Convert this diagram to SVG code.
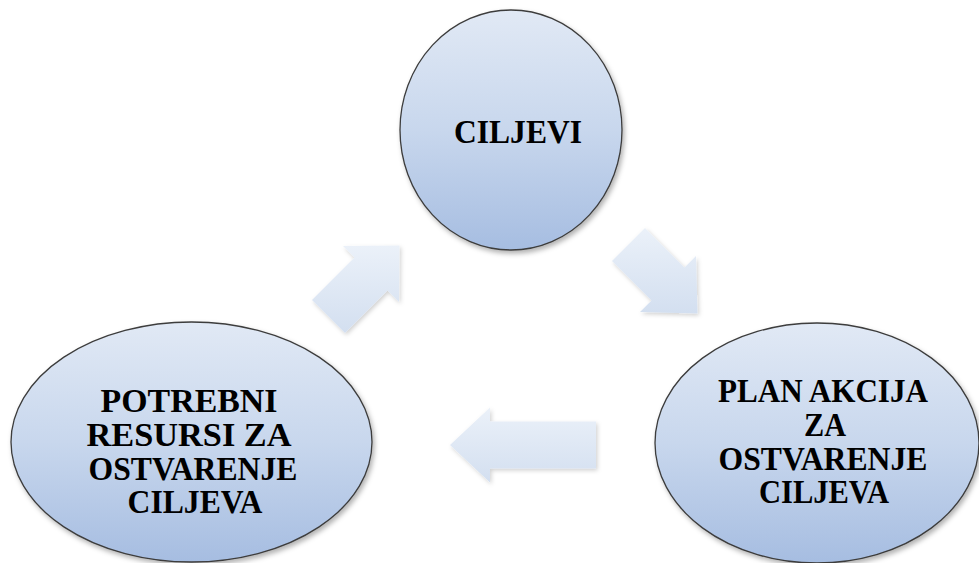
<svg xmlns="http://www.w3.org/2000/svg" width="979" height="563" viewBox="0 0 979 563">
<style>
.node{fill:url(#ng);stroke:#3c3c3c;stroke-width:1.3;filter:url(#sh)}
.lbl{font-weight:bold;font-size:33px;fill:#000;text-anchor:middle}
.arr{fill:url(#ag);stroke:none;filter:url(#ash)}
</style>
<defs>
<linearGradient id="ng" x1="0" y1="0" x2="0" y2="1">
<stop offset="0" stop-color="#e1e9f5"/>
<stop offset="0.5" stop-color="#c8d7ed"/>
<stop offset="1" stop-color="#a6bde1"/>
</linearGradient>
<linearGradient id="ag" x1="0" y1="0" x2="0" y2="1">
<stop offset="0" stop-color="#ebf1f9"/>
<stop offset="1" stop-color="#d3dff0"/>
</linearGradient>
<filter id="sh" x="-10%" y="-10%" width="125%" height="125%">
<feDropShadow dx="2" dy="3" stdDeviation="2.5" flood-color="#000" flood-opacity="0.3"/>
</filter>
<filter id="ash" x="-10%" y="-10%" width="125%" height="125%">
<feDropShadow dx="1.5" dy="2" stdDeviation="2" flood-color="#000" flood-opacity="0.18"/>
</filter>
</defs>
<g id="connectors">
<polygon id="arrow-to-ciljevi" class="arr" points="399.5,245.5 343,246 354.5,257.5 312,300 345,333 387.5,290.5 399,302"/>
<polygon id="arrow-to-plan" class="arr" points="697.5,313.5 696,256 684.5,267.5 645,228 612,261 651.5,300.5 640,312"/>
<polygon id="arrow-to-resursi" class="arr" points="450,445 490,407.5 490,421.5 596,421.5 596,468.5 490,468.5 490,482.5"/>
</g>
<g font-family="Liberation Serif, DejaVu Serif, serif">
<g id="ciljevi">
<ellipse class="node" cx="511" cy="130" rx="111" ry="120"/>
<text class="lbl" x="518" y="142.5" textLength="128" lengthAdjust="spacingAndGlyphs">CILJEVI</text>
</g>
<g id="resursi">
<ellipse class="node" cx="191.5" cy="442" rx="180.5" ry="120"/>
<text class="lbl" x="189" y="412" textLength="177" lengthAdjust="spacingAndGlyphs">POTREBNI</text>
<text class="lbl" x="189" y="446" textLength="205" lengthAdjust="spacingAndGlyphs">RESURSI ZA</text>
<text class="lbl" x="193" y="480" textLength="209" lengthAdjust="spacingAndGlyphs">OSTVARENJE</text>
<text class="lbl" x="195" y="513" textLength="135" lengthAdjust="spacingAndGlyphs">CILJEVA</text>
</g>
<g id="plan">
<ellipse class="node" cx="817" cy="443" rx="162" ry="120"/>
<text class="lbl" x="823" y="402" textLength="210" lengthAdjust="spacingAndGlyphs">PLAN AKCIJA</text>
<text class="lbl" x="825" y="436" textLength="42" lengthAdjust="spacingAndGlyphs">ZA</text>
<text class="lbl" x="823" y="470" textLength="209" lengthAdjust="spacingAndGlyphs">OSTVARENJE</text>
<text class="lbl" x="824" y="503" textLength="130" lengthAdjust="spacingAndGlyphs">CILJEVA</text>
</g>
</g>
</svg>
